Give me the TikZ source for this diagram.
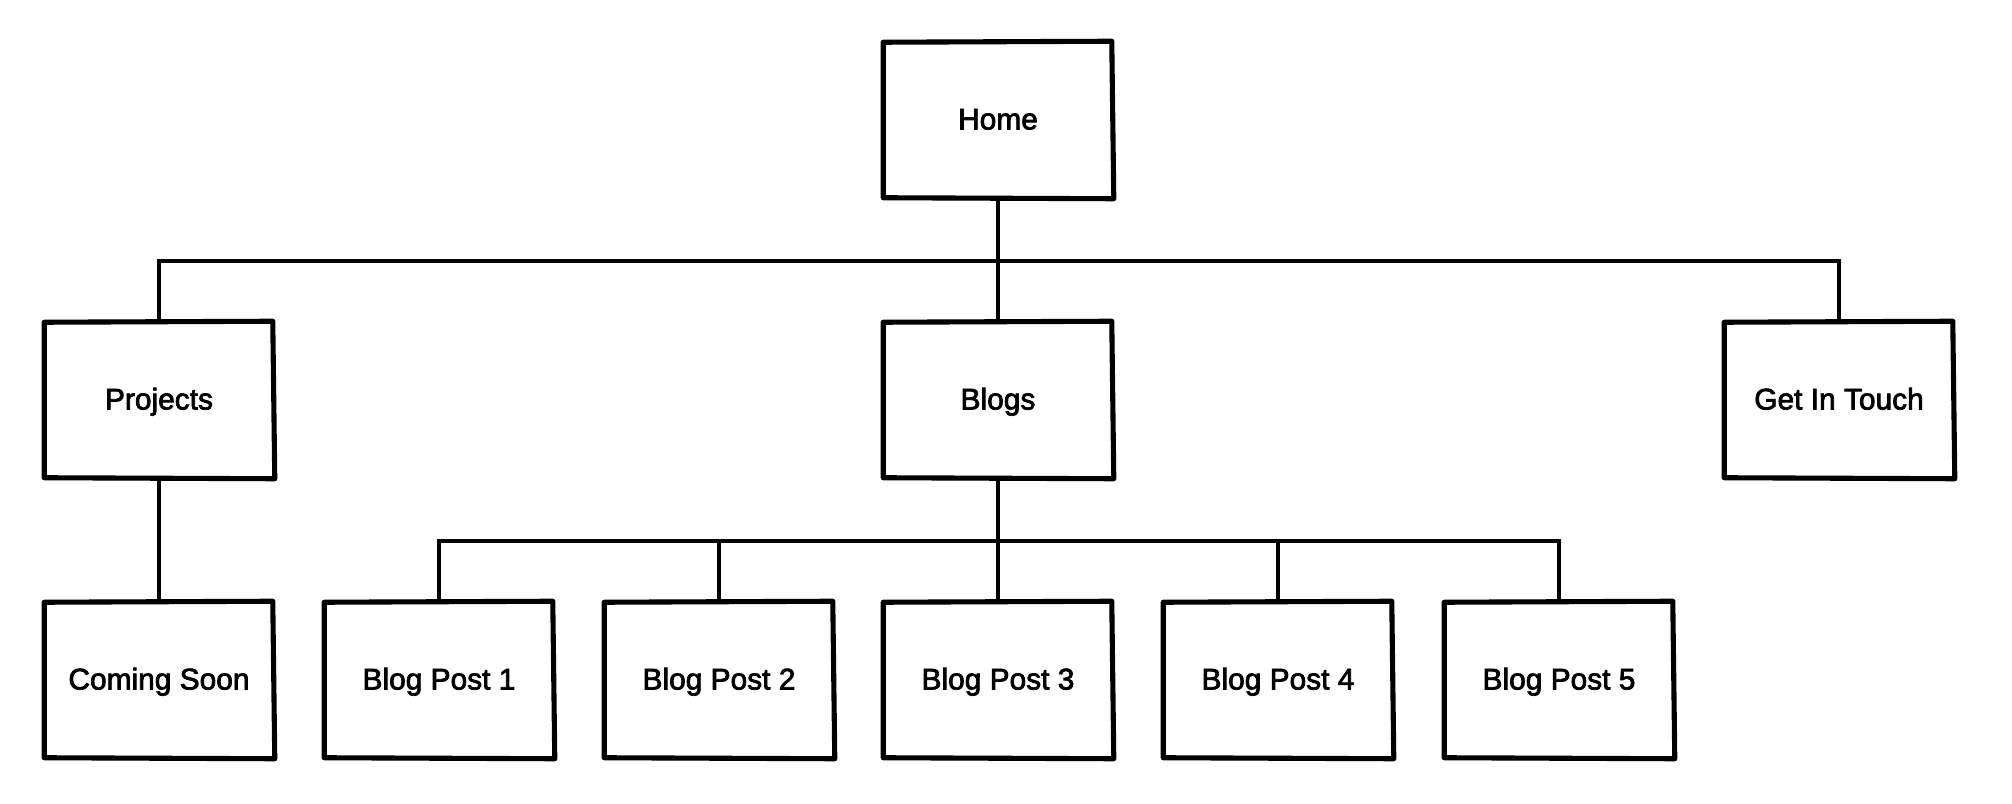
\documentclass[tikz,border=0pt]{standalone}
\usepackage{fontspec}
\setmainfont{Liberation Sans}[RawFeature={embolden=2.5}]
\usetikzlibrary{calc}
\begin{document}
\begin{tikzpicture}[x=0.01cm,y=-0.01cm,
  page/.style={minimum width=2.28cm,minimum height=1.56cm,inner sep=0pt,
    text height=6pt,text depth=0.6pt,
    font=\fontsize{8.5}{10}\selectfont},
  link/.style={line width=1.15pt,line cap=rect},
  edge/.style={line width=1.45pt,line cap=round,line join=round}]
\useasboundingbox (0,0) rectangle (2012,804);
\fill[white] (0,0) rectangle (2012,804);

% a box outline with slightly uneven, hand-drawn edges
\newcommand{\sketchbox}[1]{%
  \draw[edge] ($(#1.north west)+(0,1)$) -- ($(#1.north east)+(-1,0)$)
    -- ($(#1.south east)+(1,0)$) -- ($(#1.south west)+(0,-1)$) -- cycle;}

% pages
\node[page] (home)     at (998,120) {Home};
\node[page] (projects) at (159,400) {Projects};
\node[page] (blogs)    at (998,400) {Blogs};
\node[page] (touch)    at (1839,400) {Get In Touch};
\node[page] (soon)     at (159,680) {Coming Soon};
\node[page] (bp1)      at (439,680) {Blog Post 1};
\node[page] (bp2)      at (719,680) {Blog Post 2};
\node[page] (bp3)      at (998,680) {Blog Post 3};
\node[page] (bp4)      at (1278,680) {Blog Post 4};
\node[page] (bp5)      at (1559,680) {Blog Post 5};

\coordinate (bus)  at (998,261);
\coordinate (bus2) at (998,541);

% connectors
\draw[link] (projects.north) |- (bus) -| (touch.north);
\draw[link] (home.south) -- (blogs.north);
\draw[link] (projects.south) -- (soon.north);
\draw[link] (bp1.north) |- (bus2) -| (bp5.north);
\draw[link] (blogs.south) -- (bp3.north);
\draw[link] (bus2 -| bp2.north) -- (bp2.north);
\draw[link] (bus2 -| bp4.north) -- (bp4.north);

% outlines
\foreach \n in {home,projects,blogs,touch,soon,bp1,bp2,bp3,bp4,bp5}{\sketchbox{\n}}
\end{tikzpicture}
\end{document}
